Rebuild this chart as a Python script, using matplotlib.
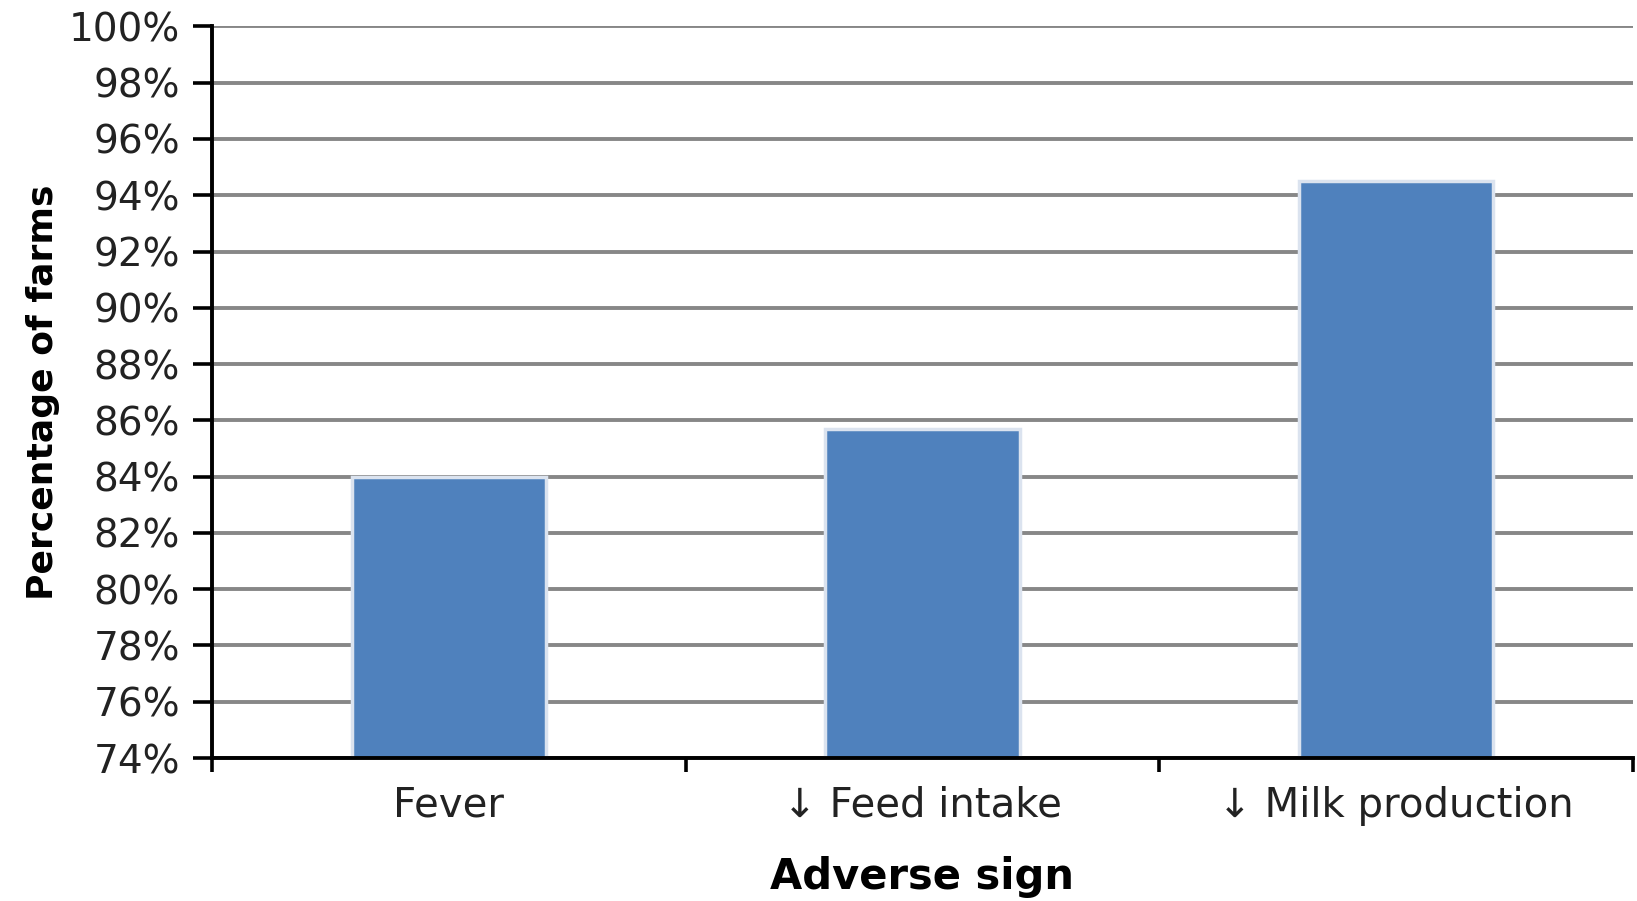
import matplotlib.pyplot as plt
from matplotlib.ticker import FuncFormatter, FixedLocator

# Share of farms reporting each adverse sign
signs = ["Fever", "\u2193 Feed intake", "\u2193 Milk production"]
pct_farms = [84.0, 85.7, 94.5]
y_ticks = list(range(74, 101, 2))

plt.rcParams["font.family"] = ["DejaVu Sans"]

fig = plt.figure(figsize=(16.37, 9.01), dpi=100)
ax = fig.add_axes([0.1295, 0.1587, 0.868, 0.812])

x = list(range(len(signs)))
ax.bar(x, pct_farms, width=0.41, color="#4f81bd", edgecolor="#dbe3ef",
       linewidth=2.5, zorder=3)

ax.set_xlim(-0.5, len(signs) - 0.5)
ax.set_ylim(74, 100)
ax.set_yticks(y_ticks)
ax.yaxis.set_major_formatter(FuncFormatter(lambda v, _: f"{v:.0f}%"))
ax.grid(axis="y", color="#878787", linewidth=2.8, zorder=0)

# category labels sit between the boundary ticks
ax.set_xticks(x)
ax.set_xticklabels(signs)
ax.xaxis.set_minor_locator(FixedLocator([-0.5, 0.5, 1.5, 2.5]))
ax.tick_params(axis="x", which="major", length=0, pad=20, labelsize=29,
               labelcolor="#222222")
ax.tick_params(axis="x", which="minor", length=10, width=2.6, color="black")
ax.tick_params(axis="y", length=14, width=2.6, pad=9, labelsize=28,
               labelcolor="#222222")

for side in ["top", "right"]:
    ax.spines[side].set_visible(False)
for side in ["left", "bottom"]:
    ax.spines[side].set_linewidth(2.8)
    ax.spines[side].set_zorder(4)

ax.set_ylabel("Percentage of farms", fontsize=26, fontweight="bold",
              labelpad=6)
ax.set_xlabel("Adverse sign", fontsize=30, fontweight="bold", labelpad=22)

fig.savefig("out.png", dpi=100)
